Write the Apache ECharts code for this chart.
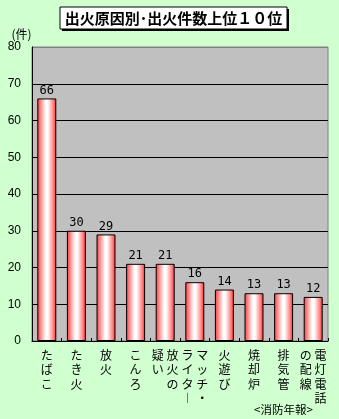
<!DOCTYPE html>
<html><head><meta charset="utf-8">
<script src="https://cdn.jsdelivr.net/npm/echarts@6/dist/echarts.min.js"></script>
<style>html,body{margin:0;padding:0;background:#d0ffd0}#c{width:339px;height:419px}</style>
</head><body><div id="c"></div>
<script>
const titleText = '出火原因別･出火件数上位１０位';
const sourceText = '<消防年報>';
const unitText = '(件)';
const categories = ['たばこ','たき火','放火','こんろ','放火の疑い','ライター・マッチ','火遊び','焼却炉','排気管','電灯電話の配線'];
// label columns as printed (left column, right column)
const labelColumns = [['たばこ'],['たき火'],['放火'],['こんろ'],['疑い','放火の'],['ライタ︱','マッチ・'],['火遊び'],['焼却炉'],['排気管'],['の配線','電灯電話']];
const values = [66,30,29,21,21,16,14,13,13,12];
const yTicks = [0,10,20,30,40,50,60,70,80];

function verticalLabel(idx){
  const cols = labelColumns[idx];
  const n = Math.max(...cols.map(c=>c.length));
  const rows = [];
  for(let i=0;i<n;i++){
    rows.push(cols.map(c=>c[i]||'　').join(' '));
  }
  return rows.join('\n');
}

const chart = echarts.init(document.getElementById('c'));
const barGrad = new echarts.graphic.LinearGradient(0,0,1,0,[
  {offset:0,color:'#ff3030'},{offset:0.18,color:'#ff8c8c'},{offset:0.45,color:'#ffffff'},
  {offset:0.55,color:'#ffffff'},{offset:0.85,color:'#ff8080'},{offset:1,color:'#ff2020'}]);
const splitColors = yTicks.map((t,i)=> i===yTicks.length-1 ? '#808080' : '#000000');
chart.setOption({
  backgroundColor:'#d0ffd0',
  animation:false,
  textStyle:{fontFamily:'"Noto Sans CJK JP", sans-serif'},
  grid:{left:32,right:11,top:47,bottom:78,show:true,backgroundColor:'#c0c0c0',borderColor:'#808080',borderWidth:1},
  xAxis:{type:'category',data:categories,
    axisLine:{lineStyle:{color:'#000',width:1}},
    axisTick:{show:true,inside:true,length:3,lineStyle:{color:'#000'}},
    axisLabel:{interval:0,color:'#000',fontSize:12,lineHeight:14.5,margin:7,
      fontFamily:'"Noto Sans CJK JP"',
      formatter:(v,i)=>verticalLabel(i)}},
  yAxis:{type:'value',min:0,max:80,interval:10,
    axisLine:{show:true,lineStyle:{color:'#000',width:1}},
    axisTick:{show:false},
    axisLabel:{color:'#000',fontSize:12,margin:11,fontFamily:'"Liberation Sans", sans-serif'},
    splitLine:{show:true,lineStyle:{color:splitColors,width:1}}},
  series:[{type:'bar',data:values,barWidth:19,
    itemStyle:{color:barGrad,borderColor:'#000',borderWidth:1},
    label:{show:true,position:'top',distance:2,color:'#000',fontSize:12,
      fontFamily:'"DejaVu Sans Mono", monospace'}}],
  graphic:[
    {type:'rect',shape:{x:62,y:9,width:227,height:22},style:{fill:'#000'}},
    {type:'rect',shape:{x:60,y:7,width:227,height:22},style:{fill:'#fff',stroke:'#000',lineWidth:1}},
    {type:'text',x:173.5,y:18.5,style:{text:titleText,fill:'#000',font:'bold 15px "Noto Sans CJK JP"',textAlign:'center',textVerticalAlign:'middle'}},
    {type:'text',x:21.5,y:34,style:{text:unitText,fill:'#000',font:'12px "Noto Sans CJK JP"',textAlign:'center',textVerticalAlign:'middle'}},
    {type:'text',x:283.5,y:410,style:{text:sourceText,fill:'#000',font:'11.5px "Noto Sans CJK JP"',textAlign:'center',textVerticalAlign:'middle'}}
  ]
});
</script></body></html>
